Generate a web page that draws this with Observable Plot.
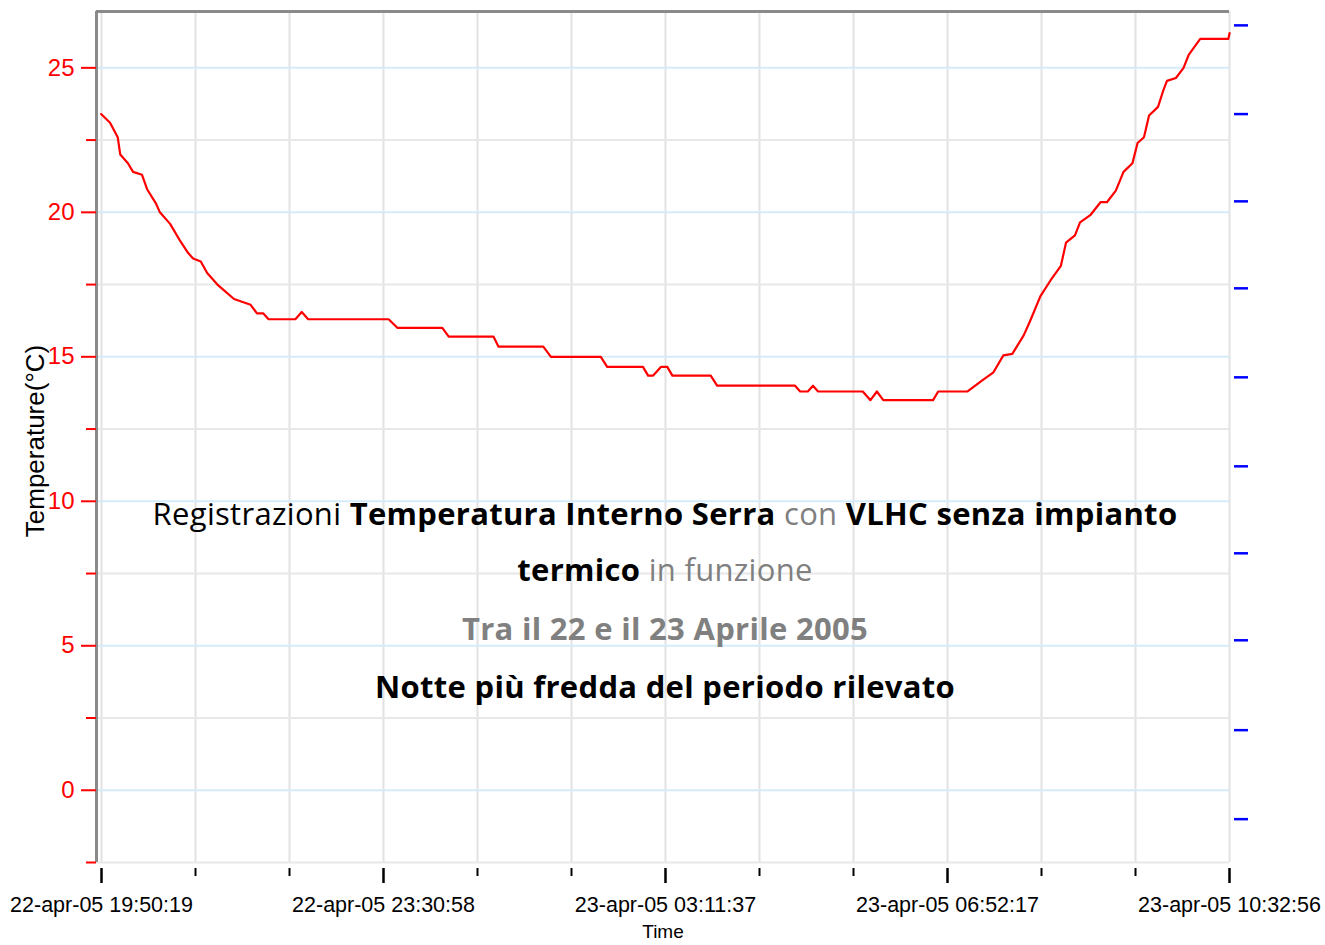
<!DOCTYPE html>
<html>
<head>
<meta charset="utf-8">
<script src="https://cdn.jsdelivr.net/npm/d3@7"></script>
<script src="https://cdn.jsdelivr.net/npm/@observablehq/plot@0.6"></script>
<style>
  html, body { margin: 0; padding: 0; background: #fff; }
  #wrap { position: relative; width: 1325px; height: 945px; }
  .line { position: absolute; left: 0; width: 1330px; text-align: center;
          font-family: "Open Sans", "Noto Sans", sans-serif; font-size: 31px; line-height: 30px;
          letter-spacing: 0.3px; color: #000; white-space: nowrap; }
  .b { font-weight: bold; }
  .g { color: #808080; }
</style>
</head>
<body>
<div id="wrap">
  <div class="line" style="top:498px">Registrazioni <span class="b">Temperatura Interno Serra</span> <span class="g">con</span> <span class="b">VLHC senza impianto</span></div>
  <div class="line" style="top:554px"><span class="b">termico</span> <span class="g">in funzione</span></div>
  <div class="line b g" style="top:613px">Tra il 22 e il 23 Aprile 2005</div>
  <div class="line b" style="top:671px">Notte più fredda del periodo rilevato</div>
</div>
<script>
// --- data ---
const times = ["22 19:50","22 19:57","22 20:03","22 20:05","22 20:11","22 20:15","22 20:22","22 20:26","22 20:33","22 20:36",
"22 20:44","22 20:52","22 20:58","22 21:02","22 21:08","22 21:13","22 21:21","22 21:34","22 21:47","22 21:52",
"22 21:57","22 22:01","22 22:22","22 22:27","22 22:32","22 23:35","22 23:42","23 00:17","23 00:22","23 00:57",
"23 01:01","23 01:36","23 01:42","23 02:21","23 02:26","23 02:54","23 02:58","23 03:02","23 03:08","23 03:13",
"23 03:17","23 03:47","23 03:52","23 04:53","23 04:57","23 05:03","23 05:07","23 05:11","23 05:46","23 05:52",
"23 05:57","23 06:02","23 06:41","23 06:45","23 07:08","23 07:20","23 07:28","23 07:36","23 07:43","23 07:52",
"23 07:57","23 08:05","23 08:13","23 08:21","23 08:25","23 08:32","23 08:36","23 08:44","23 08:52","23 08:57",
"23 09:04","23 09:10","23 09:17","23 09:21","23 09:26","23 09:30","23 09:37","23 09:41","23 09:44","23 09:51",
"23 09:57","23 10:01","23 10:10","23 10:32","23 10:33"];
const temps = [23.4,23.1,22.6,22.0,21.7,21.4,21.3,20.8,20.3,20.0,
19.6,19.0,18.6,18.4,18.3,17.9,17.5,17.0,16.8,16.5,
16.5,16.3,16.3,16.55,16.3,16.3,16.0,16.0,15.7,15.7,
15.35,15.35,15.0,15.0,14.65,14.65,14.35,14.35,14.65,14.65,
14.35,14.35,14.0,14.0,13.8,13.8,14.0,13.8,13.8,13.5,
13.8,13.5,13.5,13.8,13.8,14.2,14.45,15.05,15.1,15.75,
16.25,17.1,17.65,18.15,18.95,19.2,19.65,19.9,20.35,20.35,
20.75,21.4,21.7,22.4,22.6,23.35,23.65,24.2,24.55,24.65,
25.0,25.45,26.0,26.0,26.2];

const xTickStamps = ["2005-04-22T19:50:19Z","2005-04-22T23:30:58Z","2005-04-23T03:11:37Z","2005-04-23T06:52:17Z","2005-04-23T10:32:56Z"];
const xTickLabels = ["22-apr-05 19:50:19","22-apr-05 23:30:58","23-apr-05 03:11:37","23-apr-05 06:52:17","23-apr-05 10:32:56"];
const yMajorTicks = [0, 5, 10, 15, 20, 25];
const yMinorTicks = [-2.5, 2.5, 7.5, 12.5, 17.5, 22.5];
const rightTicks = [26.47, 23.4, 20.38, 17.37, 14.29, 11.21, 8.2, 5.19, 2.08, -1.0];
const yExtent = [-2.5, 26.95];
const xPadMs = 235000;

// --- build ---
function parseT(s) {
  const [d, hm] = s.split(" ");
  const [h, m] = hm.split(":").map(Number);
  return new Date(Date.UTC(2005, 3, +d, h, m));
}
const data = times.map((t, i) => ({t: parseT(t), v: temps[i]}));
const majorDates = xTickStamps.map(s => new Date(s));
const labelOf = new Map(majorDates.map((d, i) => [+d, xTickLabels[i]]));
const minorDates = [];
for (let i = 0; i < majorDates.length - 1; i++) {
  const a = +majorDates[i], b = +majorDates[i + 1];
  minorDates.push(new Date(a + (b - a) / 3), new Date(a + 2 * (b - a) / 3));
}
const gridDates = majorDates.concat(minorDates);
const xStart = new Date(+majorDates[0] - xPadMs);
const xEnd = majorDates[majorDates.length - 1];

const chart = Plot.plot({
  width: 1325, height: 945,
  marginLeft: 96, marginRight: 96, marginTop: 11, marginBottom: 83,
  x: {type: "utc", domain: [xStart, xEnd]},
  y: {domain: yExtent},
  style: {fontFamily: "Liberation Sans, Arial, sans-serif", background: "transparent"},
  marks: [
    Plot.ruleX(gridDates, {stroke: "#e2e2e2", strokeWidth: 2}),
    Plot.ruleY(yMinorTicks, {stroke: "#e8e8e8", strokeWidth: 2}),
    Plot.ruleY(yMajorTicks, {stroke: "#d4ecfa", strokeWidth: 2}),
    Plot.ruleX([xStart], {stroke: "#8a8a8a", strokeWidth: 3}),
    Plot.ruleY([yExtent[1]], {stroke: "#8a8a8a", strokeWidth: 3}),
    Plot.axisY({ticks: yMajorTicks, tickSize: 15, tickPadding: 7, color: "#ff0000", strokeWidth: 2, fontSize: 24, tickFormat: d => String(d), label: null}),
    Plot.axisY({ticks: yMinorTicks, tickSize: 10, tickFormat: () => "", color: "#ff0000", strokeWidth: 2, label: null}),
    Plot.axisY({anchor: "right", ticks: rightTicks, tickSize: 14, dx: 4, tickFormat: () => "", color: "#0000ff", strokeWidth: 2.5, label: null}),
    Plot.axisX({ticks: minorDates, tickSize: 8, dy: 6, tickFormat: () => "", color: "#000", strokeWidth: 2, label: null}),
    Plot.axisX({ticks: majorDates, tickSize: 15, dy: 6, tickPadding: 13, tickFormat: d => labelOf.get(+d), color: "#000", strokeWidth: 2.5, fontSize: 21.5, label: null}),
    Plot.lineY(data, {x: "t", y: "v", stroke: "#ff0000", strokeWidth: 2.2}),
    Plot.text(["Temperature(°C)"], {frameAnchor: "left", textAnchor: "middle", dx: -61, dy: 4, rotate: -90, fontSize: 26, fill: "#000"}),
    Plot.text(["Time"], {frameAnchor: "bottom", dy: 75, fontSize: 19, fill: "#000"})
  ]
});
chart.style.position = "absolute";
chart.style.left = "0";
chart.style.top = "0";
const wrap = document.getElementById("wrap");
wrap.insertBefore(chart, wrap.firstChild);
</script>
</body>
</html>
